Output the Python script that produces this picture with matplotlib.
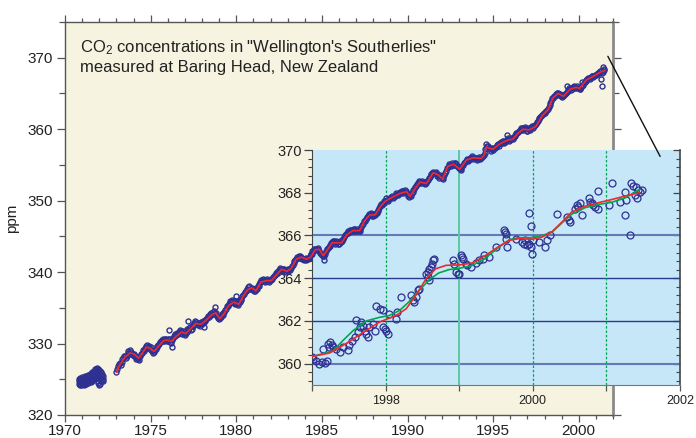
import numpy as np
import matplotlib
matplotlib.use('Agg')
import matplotlib.pyplot as plt
from matplotlib.ticker import MultipleLocator, FixedLocator, AutoMinorLocator
from matplotlib.patches import ConnectionPatch

plt.rcParams['font.family'] = ['Liberation Sans', 'DejaVu Sans']
plt.rcParams['mathtext.fontset'] = 'custom'
plt.rcParams['mathtext.rm'] = 'Liberation Sans'
plt.rcParams['mathtext.it'] = 'Liberation Sans:italic'

# ---------------- data ----------------
# 1971-72 flask cluster (no fit)
cluster_year = [1970.80, 1970.85, 1970.90, 1970.95, 1971.00, 1971.05, 1971.10, 1971.15,
                1971.20, 1971.25, 1971.30, 1971.35, 1971.40, 1971.45, 1971.50, 1971.55,
                1971.60, 1971.65, 1971.70, 1971.75, 1971.80, 1971.85, 1971.90, 1971.95,
                1972.00, 1972.05, 1972.10, 1972.15, 1972.20]
cluster_hi = [325.0, 325.1, 325.2, 325.1, 325.3, 325.2, 325.1, 325.4, 325.3, 325.2, 325.5,
              325.6, 325.5, 325.7, 325.6, 325.8, 326.0, 325.9, 326.2, 326.4, 326.5, 326.6,
              326.4, 326.5, 326.3, 326.1, 326.0, 325.8, 325.5]
cluster_mid = [324.7, 324.6, 324.8, 324.6, 324.9, 324.8, 324.6, 324.9, 324.9, 324.7, 325.0,
               325.1, 325.1, 325.2, 325.1, 325.3, 325.4, 325.5, 325.6, 325.8, 325.9, 326.0,
               325.6, 325.5, 325.3, 325.2, 325.4, 325.3, 325.1]
cluster_lo = [324.4, 324.2, 324.3, 324.2, 324.5, 324.3, 324.2, 324.4, 324.5, 324.3, 324.6,
              324.5, 324.7, 324.8, 324.6, 324.7, 324.9, 325.0, 325.1, 325.3, 325.2, 325.4,
              324.8, 324.5, 324.2, 324.4, 324.8, 324.9, 324.7]

# main record: observations every 0.1 yr from 1973.0
obs_start = 1973.0
obs_ppm = [
    326.0, 326.8, 327.3, 327.4, 328.0, 328.3, 328.2, 328.9, 329.1, 328.6,  # 1973
    328.5, 328.3, 328.0, 327.7, 328.3, 328.7, 329.0, 329.4, 329.8, 329.6,  # 1974
    329.5, 329.0, 328.8, 329.3, 329.5, 329.9, 330.3, 330.6, 330.3, 330.7,  # 1975
    330.4, 330.6, 330.1, 330.8, 331.0, 331.2, 331.3, 331.9, 331.5, 331.7,  # 1976
    331.2, 331.6, 331.9, 332.3, 332.0, 332.6, 333.1, 332.7, 332.9, 332.5,  # 1977
    332.8, 333.0, 333.3, 333.6, 333.7, 334.0, 334.1, 334.6, 334.3, 333.9,  # 1978
    333.4, 333.7, 334.0, 334.4, 334.9, 335.3, 335.6, 335.8, 336.0, 335.9,  # 1979
    335.7, 335.4, 335.8, 336.3, 336.8, 337.2, 337.5, 337.9, 337.7, 337.8,  # 1980
    337.6, 337.4, 337.7, 338.1, 338.6, 338.8, 338.9, 338.7, 339.0, 338.6,  # 1981
    338.9, 339.1, 339.4, 339.7, 340.0, 340.3, 340.5, 340.2, 340.4, 340.0,  # 1982
    340.2, 340.4, 340.6, 341.0, 341.5, 341.9, 342.0, 342.2, 342.1, 341.9,  # 1983
    341.8, 341.7, 341.9, 342.2, 342.6, 343.0, 343.2, 343.3, 343.1, 342.7,  # 1984
    342.4, 342.2, 342.6, 343.2, 343.5, 343.8, 344.2, 344.3, 344.1, 344.2,  # 1985
    344.0, 344.2, 344.5, 344.9, 345.3, 345.5, 345.6, 345.9, 345.8, 346.0,  # 1986
    345.7, 345.9, 345.8, 346.3, 346.8, 347.2, 347.5, 347.8, 348.0, 348.1,  # 1987
    347.9, 348.0, 348.3, 348.7, 349.2, 349.4, 349.7, 350.0, 350.1, 350.2,  # 1988
    350.3, 350.6, 350.5, 350.8, 350.9, 351.1, 351.0, 351.3, 351.2, 351.4,  # 1989
    350.9, 350.5, 350.7, 351.2, 351.6, 352.0, 352.4, 352.7, 352.5, 352.6,  # 1990
    352.3, 352.5, 352.9, 353.3, 353.7, 354.0, 353.8, 353.7, 353.5, 353.6,  # 1991
    353.2, 353.3, 353.9, 354.5, 354.9, 355.0, 355.2, 355.0, 355.3, 354.9,  # 1992
    354.6, 354.3, 354.8, 355.2, 355.5, 355.8, 355.7, 356.0, 356.1, 355.9,  # 1993
    355.9, 355.8, 356.0, 355.9, 356.2, 356.6, 357.4, 357.6, 357.3, 357.2,  # 1994
    357.1, 357.4, 357.6, 357.9, 358.0, 358.1, 358.3, 358.2, 358.5, 358.6,  # 1995
    358.5, 358.7, 358.9, 359.2, 359.5, 359.7, 359.9, 360.1, 360.2, 360.0,  # 1996
    359.8, 360.0, 360.3, 360.2, 360.5, 360.7, 361.2, 361.5, 361.8, 362.1,  # 1997
    362.2, 362.5, 362.8, 363.4, 364.0, 364.4, 364.6, 364.8, 365.1, 364.9,  # 1998
    364.8, 364.6, 364.9, 365.2, 365.5, 365.7, 365.6, 365.8, 365.9, 366.0,  # 1999
    365.8, 365.6, 366.0, 366.4, 366.8, 367.0, 367.2, 367.3, 367.5, 367.4,  # 2000
    367.6, 367.8, 367.9, 368.1, 368.0, 368.3,                              # 2001
]
# second sample of each 0.1-yr slot, offset by 0.05 yr
obs2_ppm = [
    326.4, 327.1, 327.0, 327.9, 328.3, 328.0, 328.7, 328.5, 328.8, 328.4,  # 1973
    328.2, 327.9, 327.8, 328.1, 328.6, 329.1, 329.3, 329.7, 329.5, 329.2,  # 1974
    329.1, 328.7, 329.1, 329.6, 329.8, 330.2, 330.5, 330.4, 330.6, 330.3,  # 1975
    330.7, 330.2, 330.5, 331.1, 331.3, 331.5, 331.6, 331.7, 331.3, 331.4,  # 1976
    331.5, 332.0, 332.2, 331.9, 332.4, 332.9, 333.0, 332.6, 332.7, 333.0,  # 1977
    333.2, 333.1, 333.5, 333.9, 334.1, 334.3, 334.4, 334.2, 333.8, 333.6,  # 1978
    333.6, 334.1, 334.3, 334.7, 335.2, 335.5, 335.9, 336.1, 335.7, 335.5,  # 1979
    335.6, 335.9, 336.1, 336.6, 337.0, 337.4, 337.7, 338.0, 337.6, 337.5,  # 1980
    337.3, 337.8, 338.0, 338.4, 338.9, 339.0, 338.6, 338.9, 338.8, 338.9,  # 1981
    339.0, 339.3, 339.6, 339.9, 340.2, 340.6, 340.3, 340.5, 340.2, 340.3,  # 1982
    340.5, 340.3, 340.9, 341.3, 341.7, 342.1, 342.3, 342.0, 341.8, 341.7,  # 1983
    342.0, 341.9, 342.0, 342.5, 342.9, 343.3, 343.1, 343.4, 342.9, 342.5,  # 1984
    342.3, 342.5, 342.9, 343.4, 343.7, 344.1, 344.4, 344.0, 344.3, 344.0,  # 1985
    344.3, 344.4, 344.7, 345.2, 345.5, 345.8, 345.9, 345.7, 346.1, 345.7,  # 1986
    346.0, 345.7, 346.1, 346.6, 347.1, 347.4, 347.7, 348.1, 348.2, 347.9,  # 1987
    348.1, 348.2, 348.6, 349.0, 349.5, 349.7, 349.9, 350.3, 350.0, 350.4,  # 1988
    350.5, 350.4, 350.7, 351.0, 350.8, 351.2, 351.4, 351.1, 351.5, 351.0,  # 1989
    350.7, 350.8, 351.0, 351.5, 351.9, 352.3, 352.6, 352.5, 352.8, 352.4,  # 1990
    352.6, 352.7, 353.1, 353.6, 353.9, 353.8, 354.0, 353.5, 353.2, 353.4,  # 1991
    353.0, 353.6, 354.2, 354.7, 355.1, 354.8, 355.0, 355.3, 355.1, 354.7,  # 1992
    354.4, 354.6, 355.0, 355.4, 355.7, 355.6, 355.9, 356.2, 355.8, 356.0,  # 1993
    355.7, 356.1, 355.8, 356.1, 356.4, 357.2, 357.7, 357.4, 357.0, 357.3,  # 1994
    357.3, 357.5, 357.8, 357.7, 358.2, 358.3, 358.0, 358.4, 358.7, 358.4,  # 1995
    358.8, 358.6, 359.1, 359.4, 359.6, 359.9, 360.1, 359.9, 360.3, 359.8,  # 1996
    360.1, 359.9, 360.4, 360.5, 360.6, 361.0, 361.4, 361.7, 362.0, 362.3,  # 1997
    362.4, 362.7, 363.1, 363.7, 364.3, 364.6, 364.9, 365.1, 364.8, 364.7,  # 1998
    364.5, 364.8, 365.1, 365.4, 365.7, 365.5, 365.9, 366.0, 365.7, 365.8,  # 1999
    365.6, 365.9, 366.2, 366.6, 366.9, 367.2, 367.0, 367.5, 367.3, 367.6,  # 2000
    367.7, 367.9, 368.2, 367.9, 368.4,                                     # 2001
]
# scattered individual samples away from the band
extra_year = [1976.10, 1976.27, 1977.20, 1978.10, 1978.76, 1980.00, 1985.15, 1994.60,
              1995.80, 1999.30, 2000.20, 2001.30, 2001.33, 2001.40]
extra_ppm = [331.9, 329.5, 333.2, 332.3, 335.1, 336.6, 341.7, 357.9,
             359.2, 366.1, 366.6, 367.0, 366.0, 368.7]

# smooth fit through the main record
fit_year = [1973.0, 1973.2, 1973.5, 1973.8, 1974.05, 1974.3, 1974.5, 1974.75, 1975.0, 1975.2,
            1975.45, 1975.75, 1976.0, 1976.2, 1976.5, 1976.8, 1977.05, 1977.35, 1977.65, 1977.95,
            1978.25, 1978.55, 1978.8, 1979.05, 1979.3, 1979.55, 1979.85, 1980.15, 1980.4, 1980.65,
            1980.9, 1981.15, 1981.45, 1981.75, 1982.05, 1982.35, 1982.65, 1982.95, 1983.2, 1983.5,
            1983.8, 1984.1, 1984.35, 1984.6, 1984.85, 1985.08, 1985.35, 1985.6, 1985.9, 1986.15,
            1986.45, 1986.8, 1987.2, 1987.5, 1987.8, 1988.1, 1988.45, 1988.75, 1989.15, 1989.55,
            1989.95, 1990.15, 1990.45, 1990.72, 1991.1, 1991.5, 1991.8, 1992.05, 1992.35, 1992.7,
            1993.05, 1993.45, 1993.85, 1994.3, 1994.45, 1994.6, 1994.8, 1995.0, 1995.3, 1995.6,
            1995.9, 1996.15, 1996.45, 1996.75, 1997.1, 1997.5, 1997.9, 1998.2, 1998.5, 1998.8,
            1999.1, 1999.5, 1999.85, 2000.05, 2000.45, 2000.85, 2001.2, 2001.5]
fit_ppm = [326.0, 327.0, 328.1, 328.7, 328.5, 327.95, 328.6, 329.5, 329.3, 328.9,
           329.6, 330.4, 330.5, 330.3, 331.0, 331.6, 331.4, 332.1, 332.8, 332.7,
           333.3, 334.0, 334.3, 333.5, 334.2, 335.3, 335.8, 335.5, 336.6, 337.5,
           337.8, 337.4, 338.6, 338.8, 338.8, 339.6, 340.4, 340.1, 340.5, 341.8,
           342.1, 341.8, 342.1, 343.1, 343.2, 342.3, 343.2, 344.1, 344.1, 344.1,
           345.2, 345.8, 345.8, 347.2, 348.0, 348.0, 349.3, 350.0, 350.5, 351.0,
           351.25, 350.6, 351.7, 352.6, 352.4, 353.9, 353.6, 353.0, 354.8, 355.1,
           354.4, 355.7, 356.0, 355.9, 356.3, 357.5, 357.3, 357.2, 357.8, 358.2,
           358.5, 358.6, 359.4, 360.0, 359.9, 360.4, 362.0, 362.7, 364.4, 365.0,
           364.6, 365.6, 365.85, 365.7, 366.9, 367.4, 367.9, 368.2]

# inset: 1997-2001 samples and two fits
ins_year = [1997.00, 1997.02, 1997.05, 1997.09, 1997.13, 1997.18, 1997.20, 1997.15, 1997.22, 1997.24,
            1997.27, 1997.23, 1997.29, 1997.33, 1997.38, 1997.42, 1997.49, 1997.50, 1997.54, 1997.58,
            1997.63, 1997.65, 1997.67, 1997.69, 1997.72, 1997.74, 1997.76, 1997.60, 1997.78, 1997.83,
            1997.87, 1997.92, 1997.96, 1997.85, 1997.96, 1997.99, 1998.01, 1998.03, 1998.05, 1998.14,
            1998.15, 1998.21, 1998.35, 1998.37, 1998.39, 1998.41, 1998.44, 1998.45, 1998.55, 1998.57,
            1998.59, 1998.62, 1998.63, 1998.65, 1998.66, 1998.57, 1998.59, 1998.91, 1998.93, 1998.95,
            1998.98, 1999.00, 1999.02, 1999.04, 1999.05, 1999.09, 1999.11, 1999.16, 1999.23, 1999.27,
            1999.32, 1999.34, 1999.41, 1999.50, 1999.61, 1999.62, 1999.63, 1999.64, 1999.65, 1999.77,
            1999.86, 1999.88, 1999.90, 1999.92, 1999.95, 1999.97, 1999.99, 2000.00, 1999.95, 1999.97,
            2000.08, 2000.17, 2000.19, 2000.24, 2000.33, 2000.46, 2000.49, 2000.51, 2000.58, 2000.60,
            2000.62, 2000.64, 2000.67, 2000.76, 2000.78, 2000.80, 2000.82, 2000.85, 2000.89, 2000.88,
            2001.03, 2001.07, 2001.18, 2001.25, 2001.27, 2001.25, 2001.32, 2001.34, 2001.36, 2001.39,
            2001.41, 2001.43, 2001.45, 2001.48, 2001.40]
ins_ppm = [360.30, 360.22, 360.14, 359.98, 360.06, 360.02, 360.11, 360.69, 360.92, 361.00,
           360.89, 360.77, 360.77, 360.69, 360.53, 360.77, 360.64, 360.89, 361.08, 361.24,
           361.47, 361.71, 361.94, 361.78, 361.55, 361.39, 361.27, 362.02, 361.71, 361.86,
           362.72, 362.57, 362.49, 361.55, 361.71, 361.63, 361.55, 361.39, 362.33, 362.10,
           362.41, 363.11, 363.19, 362.96, 362.88, 363.11, 363.43, 363.50, 364.21, 364.29,
           364.44, 364.52, 364.68, 364.84, 364.91, 364.05, 363.90, 364.84, 364.68, 364.29,
           364.21, 364.21, 365.07, 364.99, 364.91, 364.68, 364.60, 364.52, 364.71, 364.84,
           364.91, 365.07, 364.99, 365.46, 366.24, 366.17, 366.09, 365.85, 365.46, 365.85,
           365.70, 365.62, 365.77, 365.54, 365.62, 365.46, 365.15, 365.77, 367.03, 366.43,
           365.70, 365.46, 365.77, 366.01, 367.00, 366.87, 366.71, 366.64, 367.26, 367.42,
           367.34, 367.53, 366.95, 367.73, 367.57, 367.50, 367.42, 367.34, 367.26, 368.09,
           367.42, 368.44, 367.57, 368.04, 367.65, 366.95, 366.01, 368.44, 368.31, 367.89,
           367.73, 368.12, 368.04, 368.12, 368.25]

red_year = [1997.00, 1997.24, 1997.47, 1997.69, 1997.92, 1998.14, 1998.28, 1998.41, 1998.55, 1998.68,
            1998.82, 1999.00, 1999.18, 1999.36, 1999.54, 1999.68, 1999.81, 1999.99, 2000.13, 2000.26,
            2000.40, 2000.53, 2000.71, 2000.89, 2001.07, 2001.25, 2001.45]
red_ppm = [360.33, 360.50, 360.95, 361.45, 361.95, 362.25, 362.57, 363.19, 363.97, 364.44,
           364.60, 364.62, 364.71, 365.07, 365.49, 365.77, 365.85, 365.82, 365.93, 366.17,
           366.64, 367.10, 367.37, 367.53, 367.68, 367.84, 368.00]
green_year = [1997.00, 1997.29, 1997.42, 1997.56, 1997.74, 1997.92, 1998.05, 1998.19, 1998.32, 1998.45,
              1998.59, 1998.72, 1998.86, 1999.00, 1999.18, 1999.36, 1999.54, 1999.68, 1999.81, 1999.99,
              2000.13, 2000.26, 2000.40, 2000.53, 2000.71, 2000.89, 2001.07, 2001.25, 2001.45]
green_ppm = [360.33, 360.60, 361.08, 361.55, 362.00, 362.17, 362.25, 362.49, 362.90, 363.40,
             363.92, 364.24, 364.40, 364.46, 364.60, 364.95, 365.45, 365.80, 365.90, 365.90,
             366.00, 366.15, 366.60, 367.00, 367.30, 367.45, 367.55, 367.75, 368.15]

ins_hlines = [360, 362, 364, 366]
ins_vlines = [1998, 1999, 2000, 2001]

title_lines = ['CO$_\\mathregular{2}$ concentrations in "Wellington\'s Southerlies"',
               'measured at Baring Head, New Zealand']

# ---------------- style ----------------
BEIGE = '#f6f4e1'
SKY = '#c6e7f8'
NAVY = '#2e3192'
RED = '#f0282d'
GREEN = '#00a651'
W, H = 696, 438

fig = plt.figure(figsize=(W / 100, H / 100), dpi=100)
main_pos = [65 / W, 1 - 415 / H, 548 / W, 393 / H]
ins_pos = [312 / W, 1 - 385 / H, 368 / W, 235 / H]

# main axes: background, spines, ticks
ax = fig.add_axes(main_pos, zorder=1)
ax.set_facecolor(BEIGE)
ax.set_xlim(1970, 2002)
ax.set_ylim(320, 375)
ax.xaxis.set_major_locator(MultipleLocator(5))
ax.xaxis.set_minor_locator(MultipleLocator(1))
ax.yaxis.set_major_locator(MultipleLocator(10))
ax.yaxis.set_minor_locator(MultipleLocator(5))
ax.tick_params(axis='x', which='both', top=True, bottom=True, direction='out',
               labelsize=11, pad=1.5, colors='#222222')
ax.tick_params(axis='x', which='major', length=5, width=0.9, color='#555555')
ax.tick_params(axis='x', which='minor', length=3, width=0.9, color='#555555')
ax.tick_params(axis='y', which='both', left=True, right=True, direction='out',
               labelsize=11, pad=3, colors='#222222')
ax.tick_params(axis='y', which='major', length=6, width=0.9, color='#555555')
ax.tick_params(axis='y', which='minor', length=4, width=0.9, color='#555555')
for s in ['left', 'bottom', 'top']:
    ax.spines[s].set_color('#555555')
    ax.spines[s].set_linewidth(1.0)
ax.spines['right'].set_color('#8a8a8a')
ax.spines['right'].set_linewidth(2.0)
ax.set_ylabel('ppm', fontsize=11, labelpad=6, color='#222222')
ax.text(0.027, 0.924, title_lines[0], transform=ax.transAxes, fontsize=12,
        va='baseline', ha='left', color='#222222')
ax.text(0.027, 0.873, title_lines[1], transform=ax.transAxes, fontsize=12,
        va='baseline', ha='left', color='#222222')

# inset
axi = fig.add_axes(ins_pos, zorder=2)
axi.set_facecolor(SKY)
axi.set_xlim(1997, 2002)
axi.set_ylim(359, 370)
for yv in ins_hlines:
    if yv in (360, 366):
        axi.axhline(yv, color='#6479b5', lw=1.5, zorder=1)
    else:
        axi.axhline(yv, color='#2b3a8f', lw=1.0, zorder=1)
for xv in ins_vlines:
    if xv == 1999:
        axi.axvline(xv, color='#5cc9a0', lw=1.4, zorder=1)
    else:
        axi.axvline(xv, color=GREEN, lw=0.9, ls=(0, (2, 1.5)), zorder=1)
axi.plot(ins_year, ins_ppm, ls='none', marker='o', ms=5, mfc='none', mec=NAVY,
         mew=0.9, zorder=3)
axi.plot(green_year, green_ppm, color=GREEN, lw=1.2, zorder=4)
axi.plot(red_year, red_ppm, color=RED, lw=1.2, zorder=5)
axi.xaxis.set_major_locator(FixedLocator([1997, 1998, 1999, 2000, 2001, 2002]))
axi.set_xticklabels(['', '1998', '', '2000', '', '2002'])
axi.yaxis.set_major_locator(MultipleLocator(2))
axi.yaxis.set_minor_locator(AutoMinorLocator(5))
axi.tick_params(axis='x', which='both', direction='out', length=4, width=0.9,
                labelsize=9, pad=3, color='#555555', labelcolor='#222222')
axi.tick_params(axis='y', which='major', direction='out', length=6, width=0.9,
                labelsize=10.5, pad=1, color='#444444', labelcolor='#222222')
axi.tick_params(axis='y', which='minor', direction='out', length=3, width=0.8,
                color='#444444')
axi.spines['top'].set_visible(False)
axi.spines['left'].set_color('#444444')
axi.spines['bottom'].set_color('#777777')
axi.spines['right'].set_color('#444444')
axi.spines['right'].set_linewidth(1.2)
# inward ticks on the right side of the inset
axr = axi.secondary_yaxis('right')
axr.yaxis.set_major_locator(MultipleLocator(2))
axr.yaxis.set_minor_locator(AutoMinorLocator(5))
axr.tick_params(axis='y', which='major', direction='in', length=5, width=0.9,
                color='#444444', labelright=False)
axr.tick_params(axis='y', which='minor', direction='in', length=3, width=0.8,
                color='#444444')
axr.spines['right'].set_visible(False)

# overlay for the main record (drawn above the inset)
ov = fig.add_axes(main_pos, zorder=3)
ov.set_facecolor('none')
ov.set_axis_off()
ov.set_xlim(1970, 2002)
ov.set_ylim(320, 375)
obs_year = obs_start + 0.1 * np.arange(len(obs_ppm))
obs2_year = obs_start + 0.05 + 0.1 * np.arange(len(obs2_ppm))
mk = dict(ls='none', marker='o', ms=3.6, mfc='none', mec=NAVY, mew=1.0)
for vals in (cluster_lo, cluster_mid, cluster_hi):
    ov.plot(cluster_year, vals, **mk)
ov.plot(obs_year, obs_ppm, **mk)
ov.plot(obs2_year, obs2_ppm, **mk)
ov.plot(extra_year, extra_ppm, **mk)
ov.plot(fit_year, fit_ppm, color=RED, lw=1.2, zorder=5)

con = ConnectionPatch(xyA=(2001.7, 370.2), coordsA=ov.transData,
                      xyB=(2001.73, 369.7), coordsB=axi.transData,
                      color='#111111', lw=1.0)
con.set_zorder(5)
fig.add_artist(con)

fig.savefig('out.png', dpi=100)
